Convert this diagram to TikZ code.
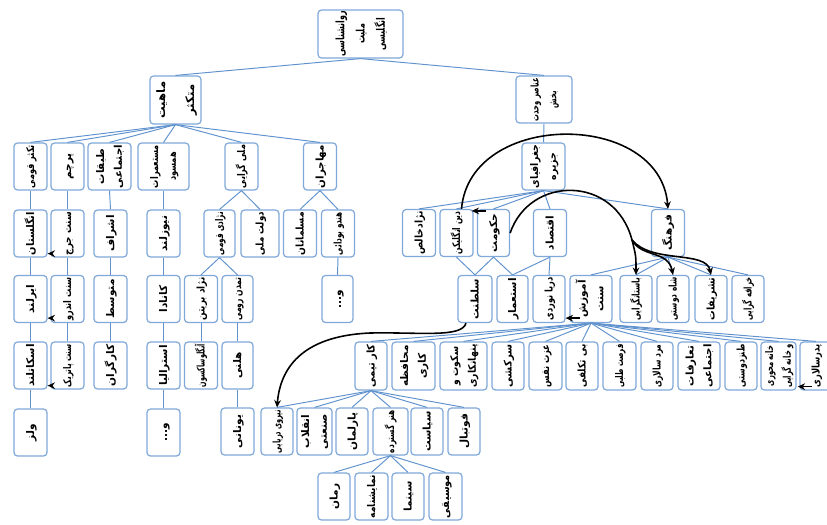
\documentclass[tikz,border=0pt]{standalone}
\usepackage{fontspec}
\usepackage{graphicx}
\usetikzlibrary{arrows.meta}
\TeXXeTstate=1
\newfontfamily\arabicfont[Script=Arabic]{DejaVu Sans}
\definecolor{boxc}{RGB}{128,168,216}
\definecolor{linec}{RGB}{96,146,206}

% one right-to-left line
\newcommand\rl[1]{\beginR#1\endR}
% label font size and line spacing
\newcommand\labfont{\fontsize{6}{10}\selectfont}
\newcommand\bigfont{\fontsize{6.6}{11.5}\selectfont}
% box label: lines stacked, squeezed along the line if too long, turned to read top-down
\newsavebox\labbox
\newcommand\lab[3][24.5pt]{%
  \sbox\labbox{\arabicfont\bfseries#2%
    \begin{tabular}{@{}c@{}}#3\end{tabular}}%
  \ifdim\wd\labbox>#1\relax\sbox\labbox{\resizebox{#1}{\height}{\usebox\labbox}}\fi
  \rotatebox{90}{\usebox\labbox}}
\newcommand\lb[1]{\lab{\labfont}{#1}}

\begin{document}
\begin{tikzpicture}[x=0.2mm,y=-0.2mm,
  box/.style={draw=boxc,line width=0.7pt,rounded corners=0.7mm,fill=white,
    inner sep=0pt,minimum width=6.6mm,minimum height=9.4mm},
  link/.style={draw=linec,line width=0.55pt},
  arr/.style={draw=black,line width=0.9pt,-{Stealth[length=4.2pt,width=3.8pt]}}]
\useasboundingbox (0,0) rectangle (827,524);

% ---- top levels
\node[box,minimum width=17mm,minimum height=9.6mm] (root) at (360.5,34)
  {\lab[26pt]{\bigfont}{\rl{روانشناسی}\\\rl{ملیت}\\\rl{انگلیسی}}};
\node[box,minimum width=10.2mm,minimum height=9.6mm] (mah) at (175.5,100)
  {\lab{\bigfont}{\rl{ماهیت}\\[5pt]\rl{متکثر}}};
\node[box,minimum width=11.2mm] (ana) at (544,99.5)
  {\lab{\labfont}{\rl{عناصر وحدت}\\\rl{بخش}}};

% ---- plural nature
\node[box] (tak) at (30.5,166.5) {\lb{\rl{تکثر قومی}}};
\node[box] (par) at (67.5,166.5) {\lb{\rl{پرچم}}};
\node[box,minimum width=8.6mm] (tab) at (109.5,166.5) {\lb{\rl{طبقات}\\\rl{اجتماعی}}};
\node[box,minimum width=10.2mm] (mos) at (163.5,166.5) {\lb{\rl{مستعمرات}\\\rl{همسود}}};
\node[box] (mel) at (241.5,166.5) {\lb{\rl{ملی گرایی}}};
\node[box] (moh) at (320,166.5) {\lb{\rl{مهاجران}}};

\node[box] (eng) at (30.5,233.5) {\lb{\rl{انگلستان}}};
\node[box] (jorj) at (67.5,233.5) {\lb{\rl{سنت جرج}}};
\node[box] (ash) at (110.5,233.5) {\lb{\rl{اشراف}}};
\node[box] (new) at (163.5,233.5) {\lb{\rl{نیوزلند}}};
\node[box,minimum width=6.2mm] (nej) at (219.5,233.5) {\lb{\rl{نژادی قومی}}};
\node[box,minimum width=7.6mm] (dol) at (260,233.5) {\lb{\rl{دولت ملی}}};
\node[box] (mus) at (300,233.5) {\lb{\rl{مسلمانان}}};
\node[box] (hin) at (338,233.5) {\lb{\rl{هندو بودائی}}};

\node[box] (irl) at (30.5,299) {\lb{\rl{ایرلند}}};
\node[box] (andr) at (67.5,299) {\lb{\rl{سنت اندرو}}};
\node[box] (mot) at (110.5,299) {\lb{\rl{متوسط}}};
\node[box] (kan) at (163.5,299) {\lb{\rl{کانادا}}};
\node[box] (nbr) at (201,299) {\lb{\rl{نژاد بریتن}}};
\node[box,minimum width=6.2mm] (tam) at (237.5,299) {\lb{\rl{تمدن رومی}}};
\node[box,minimum width=6.2mm] (va1) at (337.5,299) {\lb{\rl{و...}}};

\node[box] (sco) at (30.5,365.5) {\lb{\rl{اسکاتلند}}};
\node[box] (pat) at (67.5,365.5) {\lb{\rl{سنت پاتریک}}};
\node[box] (kar) at (110.5,365.5) {\lb{\rl{کارگران}}};
\node[box] (aus) at (163.5,365.5) {\lb{\rl{استرالیا}}};
\node[box] (ang) at (201,365.5) {\lb{\rl{آنگلوساکسون}}};
\node[box,minimum width=6.2mm] (hel) at (237.5,365.5) {\lb{\rl{هلنی}}};

\node[box] (wal) at (30.5,432.5) {\lb{\rl{ولز}}};
\node[box] (va2) at (163.5,432.5) {\lb{\rl{و...}}};
\node[box] (yun) at (237.5,431.5) {\lb{\rl{یونانی}}};

% ---- unifying elements
\node[box,minimum width=8.6mm] (jog) at (543.5,166.5) {\lb{\rl{جغرافیای}\\\rl{جزیره}}};
\node[box] (nez) at (419,233) {\lb{\rl{نژادخالص}}};
\node[box] (din) at (456.5,233) {\lb{\rl{دین انگلیکن}}};
\node[box,minimum width=6.4mm] (hok) at (493.5,233) {\lb{\rl{حکومت}}};
\node[box] (eqt) at (550,233) {\lb{\rl{اقتصاد}}};
\node[box] (far) at (668,233) {\lb{\rl{فرهنگ}}};

\node[box,minimum width=6.8mm] (sal) at (475,299) {\lb{\rl{سلطنت}}};
\node[box,minimum width=6.2mm] (est) at (512.5,299) {\lb{\rl{استعمار}}};
\node[box,minimum width=6.4mm] (dar) at (549,299) {\lb{\rl{دریا نوردی}}};
\node[box,minimum width=8.4mm] (amz) at (591,299) {\lb{\rl{آموزش}\\\rl{سنت}}};
\node[box,minimum width=6.4mm] (bas) at (636,299) {\lb{\rl{باستانگرایی}}};
\node[box,minimum width=6.4mm] (sha) at (673,299) {\lb{\rl{شاه دوستی}}};
\node[box,minimum width=6.4mm] (tas) at (711,299) {\lb{\rl{تشریفات}}};
\node[box,minimum width=6.4mm] (kho) at (748,299) {\lb{\rl{خرافه گرایی}}};

\node[box,minimum width=6.4mm,minimum height=9.6mm] (kt) at (371,366) {\lb{\rl{کار تیمی}}};
\node[box,minimum width=8.6mm,minimum height=9.6mm] (mhf) at (413.5,366) {\lb{\rl{محافظه}\\\rl{کاری}}};
\node[box,minimum width=9.4mm,minimum height=9.6mm] (sok) at (463.5,366) {\lb{\rl{سکوت و}\\\rl{پنهانکاری}}};
\node[box,minimum width=6.4mm,minimum height=9.6mm] (sar) at (508,366) {\lb{\rl{سرکشی}}};
\node[box,minimum width=6.6mm,minimum height=9.6mm] (ezz) at (545.5,366) {\lb{\rl{عزت نفس}}};
\node[box,minimum width=6.4mm,minimum height=9.6mm] (bit) at (582,366) {\lb{\rl{بی تکلفی}}};
\node[box,minimum width=6.6mm,minimum height=9.6mm] (fur) at (619.5,366) {\lb{\rl{فرصت طلبی}}};
\node[box,minimum width=6.4mm,minimum height=9.6mm] (mar) at (657,366) {\lb{\rl{مرد سالاری}}};
\node[box,minimum width=8.4mm,minimum height=9.6mm] (taa) at (699,366) {\lb{\rl{تعارفات}\\\rl{اجتماعی}}};
\node[box,minimum width=6.4mm,minimum height=9.6mm] (tan) at (741,366) {\lb{\rl{طنزدوستی}}};
\node[box,minimum width=6.6mm,minimum height=9.6mm] (kha) at (778.5,366) {\lb{\rl{خانه محوری}\\\rl{و خانه گرایی}}};
\node[box,minimum width=6.4mm,minimum height=9.6mm] (ped) at (816,366) {\lb{\rl{پدرسالاری}}};

\node[box,minimum width=6.4mm] (nir) at (277,431.5) {\lb{\rl{نیروی دریایی}}};
\node[box,minimum width=6.6mm] (enq) at (314.5,431.5) {\lb{\rl{انقلاب}\\\rl{صنعتی}}};
\node[box,minimum width=6.4mm] (parl) at (352,431.5) {\lb{\rl{پارلمان}}};
\node[box,minimum width=7mm] (hon) at (390.5,431.5) {\lb{\rl{هنر گسترده}}};
\node[box,minimum width=6.4mm] (siy) at (427,431.5) {\lb{\rl{سیاست}}};
\node[box,minimum width=6.4mm] (fut) at (464,431.5) {\lb{\rl{فوتبال}}};

\node[box,minimum width=6.4mm] (rom) at (334,496.5) {\lb{\rl{رمان}}};
\node[box,minimum width=6.6mm] (nam) at (371.5,496.5) {\lb{\rl{نمایشنامه}}};
\node[box,minimum width=6.4mm] (sin) at (408,496.5) {\lb{\rl{سینما}}};
\node[box,minimum width=6.6mm] (mus2) at (445.5,496.5) {\lb{\rl{موسیقی}}};

% ---- tree links
\foreach \p/\c in {root/mah,root/ana,
    mah/tak,mah/par,mah/tab,mah/mos,mah/mel,mah/moh,
    tak/eng,eng/irl,irl/sco,sco/wal,
    par/jorj,jorj/andr,andr/pat,
    tab/ash,ash/mot,mot/kar,
    mos/new,new/kan,kan/aus,aus/va2,
    mel/nej,mel/dol,nej/nbr,nej/tam,nbr/ang,tam/hel,hel/yun,
    moh/mus,moh/hin,hin/va1,
    ana/jog,jog/nez,jog/din,jog/hok,jog/eqt,jog/far,
    din/sal,hok/sal,hok/est,eqt/est,eqt/dar,
    far/amz,far/bas,far/sha,far/tas,far/kho,
    amz/kt,amz/mhf,amz/sok,amz/sar,amz/ezz,amz/bit,amz/fur,amz/mar,
    amz/taa,amz/tan,amz/kha,amz/ped,
    kt/nir,kt/enq,kt/parl,kt/hon,kt/siy,kt/fut,
    hon/rom,hon/nam,hon/sin,hon/mus2}
  \draw[link] (\p.south) -- (\c.north);

% ---- cross references
\draw[arr] ([yshift=0.8mm]jorj.south west) -- ([yshift=0.8mm]eng.south east);
\draw[arr] ([yshift=1mm]andr.south west) -- ([yshift=1mm]irl.south east);
\draw[arr] ([yshift=0.8mm]pat.south west) -- ([yshift=0.8mm]sco.south east);
\draw[arr] ([shift={(1.9mm,-0.4mm)}]hok.north west) -- ([shift={(-0.4mm,-0.4mm)}]din.north east);
\draw[arr] ([shift={(2.2mm,1mm)}]amz.south west) -- ([yshift=1mm]dar.south east);
\draw[arr] ([shift={(2.6mm,0.8mm)}]ped.south west) -- ([shift={(0.2mm,0.8mm)}]kha.south east);

\draw[arr] ([xshift=1mm]din.north) .. controls (470,110) and (660,110) .. (far.north);
\coordinate (br) at (632,240);
\draw[arr] (hok.east) .. controls (530,175) and (615,175) .. (br)
  .. controls (636,256) .. (bas.north);
\draw[arr] (br) .. controls (642,258) and (668,250) .. (sha.north);
\draw[arr] (br) .. controls (652,264) and (706,250) .. (tas.north);
\draw[arr] ([xshift=-1.8mm]sal.south) .. controls (462,338) and (420,332) .. (370,333)
  .. controls (300,336) and (280,370) .. (nir.north);
\end{tikzpicture}
\end{document}
